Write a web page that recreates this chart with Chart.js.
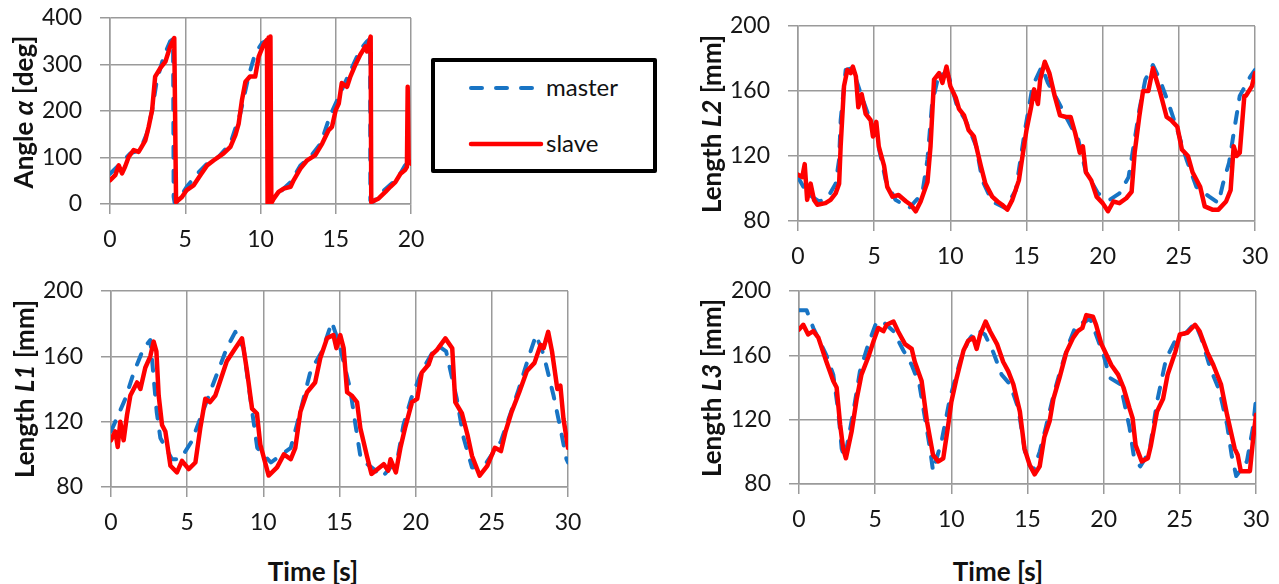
<!DOCTYPE html>
<html>
<head>
<meta charset="utf-8">
<script src="https://cdn.jsdelivr.net/npm/chart.js@4.4.0/dist/chart.umd.min.js"></script>
<style>
  html, body { margin:0; padding:0; background:#fff; }
  body { width:1279px; height:584px; position:relative; overflow:hidden; font-family:Lato, "Open Sans", sans-serif; }
  canvas { position:absolute; }
  .ytitle, .xtitle { position:absolute; font-weight:bold; font-size:26px; color:#111; white-space:nowrap; transform:translate(-50%,-50%); }
  .ytitle { transform:translate(-50%,-50%) rotate(-90deg); }
  #legend { position:absolute; left:431px; top:58px; width:226px; height:115px; box-sizing:border-box; border:4px solid #000; border-radius:2px; background:#fff; }
  #legend svg { position:absolute; left:0; top:0; }
  #legend .lbl { position:absolute; font-size:24px; color:#111; transform:translateY(-50%); }
</style>
</head>
<body>
<canvas id="cA" width="451" height="284" style="left:0;top:-22px"></canvas>
<canvas id="cL2" width="605" height="284" style="left:690px;top:-14px"></canvas>
<canvas id="cL1" width="608" height="299" style="left:0;top:251px"></canvas>
<canvas id="cL3" width="606" height="299" style="left:690px;top:251px"></canvas>

<div class="ytitle" style="left:23px;top:112px">Angle <i>α</i> [deg]</div>
<div class="ytitle" style="left:711px;top:124px">Length <i>L2</i> [mm]</div>
<div class="ytitle" style="left:24px;top:389px">Length <i>L1</i> [mm]</div>
<div class="ytitle" style="left:711px;top:388px">Length <i>L3</i> [mm]</div>
<div class="xtitle" style="left:313px;top:571px">Time [s]</div>
<div class="xtitle" style="left:998px;top:571px">Time [s]</div>

<div id="legend">
  <svg width="218" height="107">
    <line x1="36" y1="26" x2="106" y2="26" stroke="#1874c4" stroke-width="4" stroke-dasharray="11 14" stroke-linecap="round"/>
    <line x1="36" y1="82" x2="106" y2="82" stroke="#ff0000" stroke-width="4.5" stroke-linecap="round"/>
  </svg>
  <div class="lbl" style="left:111px;top:24px">master</div>
  <div class="lbl" style="left:111px;top:80px">slave</div>
</div>

<script>
// ---------------- DATA ----------------
const seriesNames = ['master', 'slave'];

// Angle alpha [deg]
const angleMasterT = [0,0.69,1.35,2.0,2.46,2.8,3.12,3.57,4.0,4.19,4.23,4.3,4.45,5.1,5.8,6.45,7.2,8.0,8.66,9.2,9.65,10.1,10.45,10.5,10.6,11.3,12.0,12.65,13.3,14.0,14.6,15.3,16.0,16.63,17.08,17.28,17.3,17.4,18.2,19.1,19.6,20];
const angleMasterV = [65,87,109,116,152,202,267,317,350,355,15,2,4,37,65,87,101,130,195,274,324,346,352,8,2,26,47,83,101,130,188,238,288,332,350,355,8,2,29,55,83,94];
const angleSlaveT = [0,0.35,0.58,0.8,1.0,1.24,1.57,1.9,2.1,2.35,2.57,2.8,3.0,3.34,3.68,4.0,4.27,4.39,4.78,5.1,5.55,6.0,6.45,6.9,7.55,8.0,8.33,8.55,8.77,9.0,9.3,9.65,9.88,10.2,10.43,10.47,10.54,10.6,10.66,10.72,10.87,11.2,11.54,12.0,12.2,12.65,13.1,13.64,14.1,14.53,14.75,15.0,15.2,15.4,15.75,15.97,16.3,16.63,16.97,17.08,17.32,17.36,17.85,18.3,18.63,18.96,19.3,19.6,19.73,19.78,19.84,20];
const angleSlaveV = [51,62,83,66,80,101,116,112,123,137,166,202,274,292,306,339,357,4,15,30,40,62,83,94,109,123,148,173,224,263,274,274,317,342,353,2,358,3,360,2,11,26,33,37,51,76,94,105,130,159,166,202,216,260,252,274,299,321,339,328,360,4,12,26,37,47,65,73,80,252,94,87];

// Length L2 [mm]
const l2MasterT = [0,0.6,1.38,1.93,2.47,2.7,2.8,3.13,3.57,4.1,4.66,5.1,5.76,6.4,7.3,8.16,8.5,8.8,9.26,9.9,10.46,11.0,11.7,12.1,12.75,13.6,14.3,14.9,15.4,16.0,16.4,17.0,17.6,18.4,18.9,19.7,20.45,21.1,21.7,22.1,22.4,22.8,23.3,23.75,24.3,24.9,25.5,26.15,27.0,27.6,27.9,28.3,28.6,29.0,29.7,30];
const l2MasterV = [107,97,92,94,103,118,142,173,174,159,144,134,105,93,88,97,118,152,171,169,150,142,126,105,92,88,99,136,163,175,165,155,144,130,110,97,93,97,107,130,148,167,176,167,153,136,118,101,95,91,103,116,134,157,169,173];
const l2SlaveT = [0,0.28,0.44,0.6,0.83,1.05,1.27,1.8,2.14,2.47,2.7,2.8,3.02,3.24,3.46,3.6,3.8,3.96,4.18,4.44,4.77,4.92,5.14,5.3,5.65,5.86,6.2,6.6,7.1,7.4,7.73,8.05,8.5,8.7,8.93,9.26,9.48,9.75,10.0,10.35,10.57,10.9,11.2,11.55,11.8,12.0,12.3,12.75,13.1,13.4,13.74,14.07,14.5,14.77,15.0,15.3,15.5,15.75,15.9,16.2,16.5,16.85,17.2,17.6,17.9,18.2,18.5,18.7,18.9,19.25,19.6,20.0,20.35,20.7,21.1,21.55,21.9,22.1,22.4,22.65,23.0,23.3,23.75,24.2,24.5,24.9,25.2,25.6,25.9,26.4,26.7,27.2,27.6,28.1,28.4,28.6,28.8,29.0,29.3,29.4,29.8,30];
const l2SlaveV = [108.5,107,115,93,103,93,90,91,93,97,103,126,163,173,171,175,169,150,158,146,142,132,141,126,114,101,95,96,92,90,86,92,104,126,167,171,165,175,163,156,149,145,136,132,122,114,103,95,92,90,87,93,105,122,136,150,161,152,167,178,171,157,145,144,144,134,122,126,110,105,95,91,86,92,91,94,98,122,144,160,160,174,160,144,142,138,124,120,110,101,89,87,87,92,99,126,120,122,157,157,163,171];

// Length L1 [mm]
const l1MasterT = [0,0.94,1.49,2.14,2.58,3.0,3.24,4.0,4.55,5.3,5.86,6.5,7.07,7.6,8.16,8.7,9.15,9.6,10.5,11.8,12.2,13.1,13.85,14.5,15,15.7,16.05,16.4,17.25,17.8,18.8,19.2,19.7,20.4,21.4,22,22.7,23.15,23.7,24.5,25.6,26.7,27.4,27.9,28.4,29.05,29.5,29.9,30];
const l1MasterV = [114,134,150,165,170,126,110,97,97,108,122,138,152,165,175,165,134,104,95,104,118,151,163,181,167,140,118,97,91,86,97,118,134,151,167,163,134,110,92,93,108,138,159,173,161,136,116,97,95];
const l1SlaveT = [0,0.28,0.44,0.61,0.83,1.05,1.27,1.71,1.93,2.25,2.58,2.8,2.98,3.13,3.35,3.57,3.9,4.33,4.66,5.1,5.54,5.86,6.19,6.5,6.85,7.6,8.16,8.6,8.93,9.26,9.58,9.8,10.35,10.9,11.35,11.8,12.1,12.43,12.87,13.4,13.74,14.18,14.6,14.8,15.05,15.27,15.5,15.8,16.15,16.37,16.8,17.1,17.9,18.2,18.35,18.7,19.0,19.3,19.76,20.1,20.4,20.85,21.07,21.4,21.95,22.4,22.6,23.04,23.4,23.7,24.2,24.7,25.2,25.6,25.9,26.3,26.8,27.3,27.8,28.2,28.4,28.7,28.95,29.3,29.5,29.7,30];
const l1SlaveV = [108.6,114,104.5,120,108.6,124,136,144,140,153,160,169,163,136,118,114,93,89,96,91,95,116,134,132,136,157,165,171,151,128,125,106,87,92,100,97,104,126,138,144,159,171,173,165,173,165,138,136,132,116,99,88,94,90,97,89,104,116,132,134,150,155,161,164,171,165,132,125,112,99,87,93,104,102,114,126,138,151,156,167,165,175,163,140,142,122,104];

// Length L3 [mm]
const l3MasterT = [0,0.5,0.94,1.8,2.25,2.58,2.8,3.0,3.57,4.0,4.55,5.1,5.5,6.2,6.85,7.4,7.9,8.27,8.6,8.8,9.37,9.9,10.57,11.1,11.66,12.2,12.75,13.3,13.85,14.4,14.9,15.36,15.8,16.2,16.7,17.2,17.7,18.2,18.8,19.1,19.5,20.0,20.4,21.1,21.7,22.0,22.4,23.0,23.5,24.1,24.8,25.4,26.0,26.4,27.0,27.6,28.1,28.4,28.7,29.4,29.8,30];
const l3MasterV = [188,188,177,160,148,125,102,96,125,150,167,181,181,175,163,154,142,121,102,88,107,133,156,169,176,173,162,148,142,127,96,88,100,115,135,152,167,179,181,183,173,160,146,142,115,96,91,100,131,158,171,174,180,171,152,138,117,98,85,94,115,133];
const l3SlaveT = [0,0.28,0.6,0.94,1.27,1.8,2.25,2.47,2.7,2.9,3.08,3.46,3.79,4.1,4.55,4.9,5.2,5.54,5.75,6.2,6.5,6.96,7.4,7.6,8.05,8.4,8.8,9.15,9.47,9.8,10.0,10.35,10.8,11.1,11.44,11.66,11.9,12.25,12.54,13.0,13.4,13.74,14.07,14.5,14.8,15.14,15.47,15.8,16.1,16.45,16.7,17.1,17.55,18.0,18.3,18.6,18.86,19.3,19.5,19.85,20.2,20.5,20.95,21.3,21.7,21.9,22.1,22.5,22.9,23.1,23.5,23.9,24.2,24.7,25.0,25.5,26.0,26.3,26.8,27.2,27.7,28.1,28.6,28.8,29.0,29.6,29.8,30];
const l3SlaveV = [176,179,173,175,171,156,144,140,117,102,96,113,133,148,159,169,177,175,179,181,175,167,164,156,144,119,98,94,96,117,131,146,163,169,171,164,173,181,175,167,156,150,142,125,102,92,86,91,109,119,133,146,162,171,175,177,185,184,179,167,160,154,148,140,127,121,104,94,96,104,125,133,148,162,173,174,179,175,162,154,142,123,102,98,88,88,107,123];

// Axis ticks
const timeTicks20 = [0, 5, 10, 15, 20];
const timeTicks30 = [0, 5, 10, 15, 20, 25, 30];
const angleTicks = [0, 100, 200, 300, 400];
const lengthTicks = [80, 120, 160, 200];

// ---------------- RENDER ----------------
const BLUE = '#1874c4', RED = '#ff0000', GRID = '#9a9a9a', TXT = '#161616';
const toXY = (t, v) => t.map((x, i) => ({ x: x, y: v[i] }));
const PAD = 40;

function makeChart(id, mT, mV, sT, sV, xTicks, yTicks, box) {
  const ctx = document.getElementById(id);
  new Chart(ctx, {
    type: 'line',
    data: {
      datasets: [
        { label: seriesNames[0], data: toXY(mT, mV), borderColor: BLUE, borderWidth: 4,
          borderDash: [11, 13], borderCapStyle: 'round', borderJoinStyle: 'round',
          pointRadius: 0, tension: 0, order: 1, fill: false },
        { label: seriesNames[1], data: toXY(sT, sV), borderColor: RED, borderWidth: 4.5,
          borderCapStyle: 'round', borderJoinStyle: 'round',
          pointRadius: 0, tension: 0, order: 0, fill: false }
      ]
    },
    options: {
      responsive: false, animation: false, devicePixelRatio: 1,
      layout: { padding: { left: 0, top: PAD, right: PAD, bottom: 0 } },
      plugins: { legend: { display: false }, tooltip: { enabled: false } },
      events: [],
      scales: {
        x: {
          type: 'linear', min: xTicks[0], max: xTicks[xTicks.length - 1],
          afterBuildTicks: (ax) => { ax.ticks = xTicks.map(v => ({ value: v })); },
          afterFit: (ax) => { ax.height = box.xh; },
          ticks: { color: TXT, font: { family: 'Lato', size: 23 }, padding: 12, maxRotation: 0, autoSkip: false },
          grid: { color: GRID, lineWidth: 1.5, tickLength: 10, drawTicks: true },
          border: { color: GRID, width: 1.5 }
        },
        y: {
          type: 'linear', min: yTicks[0], max: yTicks[yTicks.length - 1],
          afterBuildTicks: (ax) => { ax.ticks = yTicks.map(v => ({ value: v })); },
          afterFit: (ax) => { ax.width = box.yw; },
          ticks: { color: TXT, font: { family: 'Lato', size: 23 }, padding: 18, autoSkip: false },
          grid: { color: GRID, lineWidth: 1.5, tickLength: 10, drawTicks: true },
          border: { color: GRID, width: 1.5 }
        }
      }
    }
  });
}

// plot boxes: canvas top = plotTop - PAD, canvas width = plotRight + PAD - canvasLeft
makeChart('cA', angleMasterT, angleMasterV, angleSlaveT, angleSlaveV, timeTicks20, angleTicks,
  { yw: 110, xh: 284 - PAD - 186 });
makeChart('cL2', l2MasterT, l2MasterV, l2SlaveT, l2SlaveV, timeTicks30, lengthTicks,
  { yw: 108, xh: 284 - PAD - 195 });
makeChart('cL1', l1MasterT, l1MasterV, l1SlaveT, l1SlaveV, timeTicks30, lengthTicks,
  { yw: 111, xh: 299 - PAD - 196 });
makeChart('cL3', l3MasterT, l3MasterV, l3SlaveT, l3SlaveV, timeTicks30, lengthTicks,
  { yw: 109, xh: 299 - PAD - 193 });
</script>
</body>
</html>
